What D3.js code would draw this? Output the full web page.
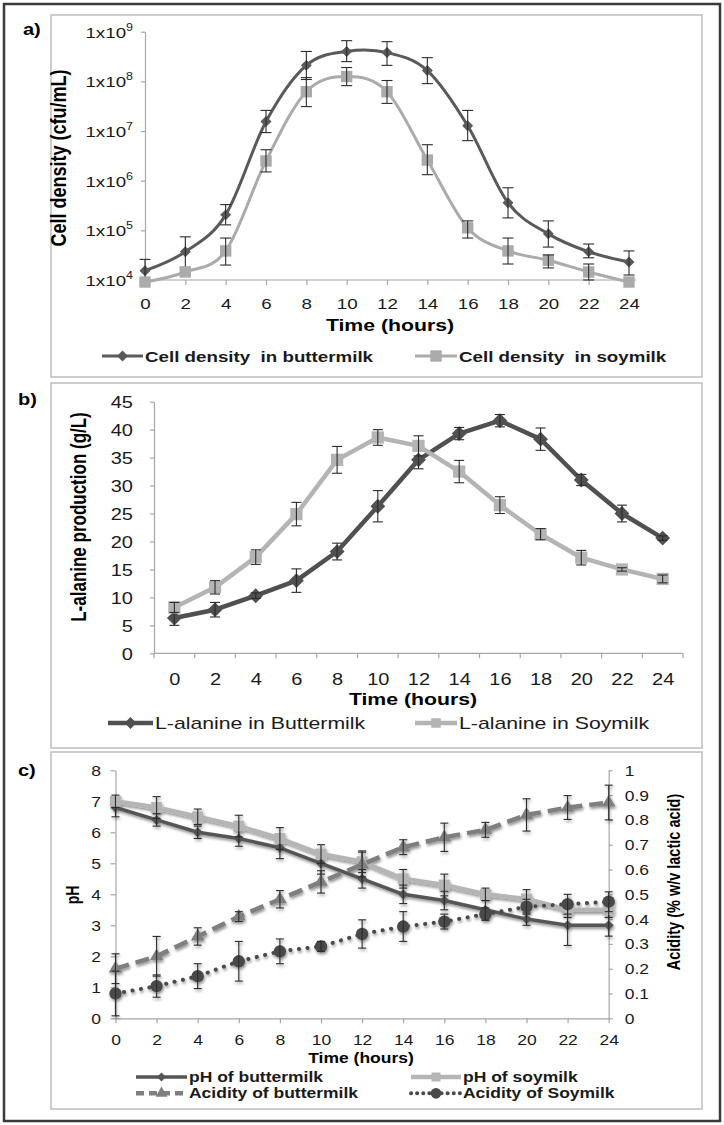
<!DOCTYPE html>
<html><head><meta charset="utf-8">
<script src="https://cdn.jsdelivr.net/npm/d3@7"></script>
<style>body{margin:0;background:#fff;} svg{display:block;font-family:Arial,"Liberation Sans",sans-serif;} text{white-space:pre;}</style>
</head><body><svg id="chart" width="724" height="1125"></svg>
<script>
// ---------- DATA ----------
const hours = [0,2,4,6,8,10,12,14,16,18,20,22,24];
const hourLabels = hours.map(String);

// Panel a: cell density (cfu/mL)
const cellButter   = [1.54e4, 3.7e4, 2.05e5, 1.55e7, 2.1e8, 4.0e8, 3.8e8, 1.65e8, 1.28e7, 3.6e5, 8.5e4, 3.7e4, 2.3e4];
const cellButterHi = [2.6e4, 7.4e4, 3.3e5, 2.6e7, 4.0e8, 6.6e8, 6.3e8, 3.0e8, 2.6e7, 7.2e5, 1.55e5, 5.3e4, 3.85e4];
const cellButterLo = [9.0e3, 1.8e4, 1.29e5, 9.3e6, 1.09e8, 2.5e8, 2.1e8, 9.0e7, 6.4e6, 1.78e5, 4.6e4, 2.8e4, 1.26e4];
const cellSoy      = [9.1e3, 1.45e4, 3.85e4, 2.5e6, 6.2e7, 1.25e8, 6.2e7, 2.6e6, 1.12e5, 3.85e4, 2.5e4, 1.45e4, 9.1e3];
const cellSoyHi    = [null, null, 7.0e4, 4.2e6, 1.19e8, 1.9e8, 1.04e8, 5.3e6, 1.55e5, 7.0e4, 3.2e4, 2.1e4, null];
const cellSoyLo    = [null, null, 2.0e4, 1.5e6, 3.1e7, 8.2e7, 3.6e7, 1.32e6, 7.0e4, 2.1e4, 1.75e4, 1.0e4, null];
const cellTicks    = [1e4, 1e5, 1e6, 1e7, 1e8, 1e9];

// Panel b: L-alanine (g/L)
const alaButter    = [6.3, 7.8, 10.3, 13.0, 18.2, 26.3, 34.6, 39.3, 41.6, 38.3, 31.0, 25.0, 20.6];
const alaButterErr = [1.3, 1.3, 0.5, 2.1, 1.5, 2.8, 1.6, 1.1, 1.1, 2.0, 1.0, 1.5, 0.4];
const alaSoy       = [8.2, 11.8, 17.2, 24.9, 34.6, 38.6, 37.1, 32.5, 26.5, 21.3, 17.1, 15.0, 13.3];
const alaSoyErr    = [0.9, 1.2, 1.3, 2.1, 2.4, 1.4, 1.8, 2.0, 1.5, 1.0, 1.3, 0.3, 0.7];
const alaTicks     = [0,5,10,15,20,25,30,35,40,45];

// Panel c: pH and acidity
const phButter      = [6.8, 6.4, 6.0, 5.8, 5.5, 5.0, 4.5, 4.0, 3.8, 3.5, 3.2, 3.0, 3.0];
const phButterErr   = [0.3, 0.2, 0.2, 0.25, 0.35, 0.35, 0.3, 0.3, 0.3, 0.3, 0.2, 0.65, 0.35];
const phSoy         = [7.0, 6.8, 6.5, 6.2, 5.8, 5.3, 5.05, 4.5, 4.3, 4.0, 3.85, 3.5, 3.5];
const phSoyErr      = [0.2, 0.35, 0.25, 0.35, 0.35, 0.3, 0.35, 0.3, 0.35, 0.2, 0.3, 0.25, 0.25];
const acidButter    = [0.20, 0.25, 0.33, 0.41, 0.48, 0.55, 0.62, 0.69, 0.73, 0.76, 0.82, 0.85, 0.87];
const acidButterErr = [0.06, 0.08, 0.035, 0.02, 0.035, 0.045, 0.05, 0.03, 0.057, 0.03, 0.065, 0.048, 0.07];
const acidSoy       = [0.10, 0.13, 0.17, 0.23, 0.27, 0.29, 0.34, 0.37, 0.39, 0.42, 0.45, 0.46, 0.47];
const acidSoyErr    = [0.09, 0.045, 0.05, 0.08, 0.05, 0.02, 0.057, 0.06, 0.03, 0.025, 0.03, 0.04, 0.04];
const phTicks       = [0,1,2,3,4,5,6,7,8];
const acidTicks     = [0,0.1,0.2,0.3,0.4,0.5,0.6,0.7,0.8,0.9,1];

// ---------- HELPERS ----------
const svg = d3.select('#chart');
const SX = 1.25;           // horizontal stretch of the source figure's text
const AX = '#a6a6a6';
const INK = '#1a1a1a';

const defs = svg.append('defs');
const f = defs.append('filter').attr('id','soft').attr('x','-20%').attr('y','-20%').attr('width','140%').attr('height','140%');
f.append('feGaussianBlur').attr('in','SourceAlpha').attr('stdDeviation',1.6).attr('result','b');
f.append('feOffset').attr('in','b').attr('dx',1).attr('dy',1.5).attr('result','o');
f.append('feComponentTransfer').attr('in','o').attr('result','s').append('feFuncA').attr('type','linear').attr('slope',0.45);
const fm = f.append('feMerge'); fm.append('feMergeNode').attr('in','s'); fm.append('feMergeNode').attr('in','SourceGraphic');

function txt(g, x, y, s, o = {}) {
  const tr = o.rot ? `translate(${x},${y}) rotate(${o.rot}) scale(1,${SX})`
                   : `translate(${x},${y}) scale(${SX},1)`;
  return g.append('text').attr('transform', tr)
    .attr('text-anchor', o.anchor || 'start')
    .attr('font-size', o.size || 15)
    .attr('font-weight', o.bold ? 'bold' : 'normal')
    .attr('fill', o.fill || INK)
    .attr('xml:space','preserve')
    .text(s);
}
const rhombus = { draw(ctx, size) { const w = Math.sqrt(size / 2); ctx.moveTo(0,-w); ctx.lineTo(w,0); ctx.lineTo(0,w); ctx.lineTo(-w,0); ctx.closePath(); } };

function styleAxis(sel) {
  sel.select('.domain').attr('stroke', AX).attr('stroke-width', 1.2);
  sel.selectAll('.tick line').attr('stroke', AX).attr('stroke-width', 1.2);
}
function drawSeries(g, xs, ys, vals, o) {
  const pts = hours.map((t, i) => ({ t, v: vals[i], i }));
  const line = d3.line().x(d => xs(d.t)).y(d => ys(d.v)).curve(o.curve || d3.curveLinear);
  g.append('path').attr('d', line(pts)).attr('fill','none')
    .attr('stroke', o.color).attr('stroke-width', o.width)
    .attr('stroke-dasharray', o.dash || null).attr('stroke-linecap', o.cap || 'butt')
    .attr('stroke-linejoin','round');
  g.selectAll(null).data(pts).join('path')
    .attr('transform', d => `translate(${xs(d.t)},${ys(d.v)})`)
    .attr('d', d3.symbol().type(o.symbol).size(o.size))
    .attr('fill', o.mcolor || o.color);
  // error bars
  const eb = pts.filter(d => o.hi ? o.hi[d.i] != null : o.err && o.err[d.i] != null);
  const hiV = d => o.hi ? o.hi[d.i] : d.v + o.err[d.i];
  const loV = d => o.lo ? o.lo[d.i] : d.v - o.err[d.i];
  const cw = o.capW || 4;
  const ge = g.append('g').attr('stroke', '#2b2b2b').attr('stroke-width', 1.1);
  ge.selectAll(null).data(eb).join('line')
    .attr('x1', d => xs(d.t)).attr('x2', d => xs(d.t))
    .attr('y1', d => ys(hiV(d))).attr('y2', d => ys(loV(d)));
  ge.selectAll(null).data(eb).join('line')
    .attr('x1', d => xs(d.t) - cw).attr('x2', d => xs(d.t) + cw)
    .attr('y1', d => ys(hiV(d))).attr('y2', d => ys(hiV(d)));
  ge.selectAll(null).data(eb).join('line')
    .attr('x1', d => xs(d.t) - cw).attr('x2', d => xs(d.t) + cw)
    .attr('y1', d => ys(loV(d))).attr('y2', d => ys(loV(d)));
}
function legendItem(g, x1, x2, y, label, o) {
  g.append('line').attr('x1', x1).attr('x2', x2).attr('y1', y).attr('y2', y)
    .attr('stroke', o.color).attr('stroke-width', o.width)
    .attr('stroke-dasharray', o.dash || null).attr('stroke-linecap', o.cap || 'butt');
  g.append('path').attr('transform', `translate(${(x1 + x2) / 2},${y})`)
    .attr('d', d3.symbol().type(o.symbol).size(o.size)).attr('fill', o.mcolor || o.color);
  txt(g, x2 + 2, y + o.dy, label, { size: o.fs, bold: o.bold });
}

// ---------- FRAMES ----------
svg.append('rect').attr('x',4).attr('y',4).attr('width',716).attr('height',1117)
  .attr('fill','none').attr('stroke','#3a3a3a').attr('stroke-width',2.5);
[[15,377],[383,748],[752,1109]].forEach(([y0,y1]) =>
  svg.append('rect').attr('x',51).attr('y',y0).attr('width',651).attr('height',y1-y0)
    .attr('fill','none').attr('stroke','#bdbdbd').attr('stroke-width',1.5));

// ---------- PANEL A ----------
{
  const g = svg.append('g');
  const x = d3.scalePoint().domain(hours).range([145, 629]);
  const y = d3.scaleLog().domain([1e4, 1e9]).range([280, 31.7]);
  const ya = g.append('g').attr('transform','translate(145,0)')
    .call(d3.axisLeft(y).tickValues(cellTicks).tickSize(4).tickSizeOuter(0).tickFormat(''));
  styleAxis(ya);
  ya.selectAll('.tick text').remove();
  ya.selectAll('.tick').each(function(d) {
    const t = d3.select(this).append('text').attr('text-anchor','end')
      .attr('x', -12 / SX).attr('y', 5.5).attr('transform', `scale(${SX},1)`)
      .attr('font-size', 15).attr('fill', INK);
    t.append('tspan').text('1x10');
    t.append('tspan').attr('font-size', 10).attr('dy', -7).text(Math.round(Math.log10(d)));
  });
  const xa = g.append('g').attr('transform','translate(0,280)')
    .call(d3.axisBottom(x).tickSize(5).tickSizeOuter(0).tickFormat((d,i) => hourLabels[i]));
  styleAxis(xa);
  xa.select('.domain').remove();
  xa.append('line').attr('x1',145).attr('x2',636).attr('stroke',AX).attr('stroke-width',1.2);
  xa.selectAll('.tick text').attr('y', 29).attr('dy', 0).attr('font-size', 15).attr('fill', INK)
    .attr('transform', `scale(${SX},1)`).attr('x', 0);

  txt(g, 23, 35, 'a)', { size: 16, bold: true, fill: '#000' });
  txt(g, 66, 158, 'Cell density (cfu/mL)', { size: 18, bold: true, rot: -90, anchor: 'middle', fill: '#000' });
  txt(g, 390, 331, 'Time (hours)', { size: 17, bold: true, anchor: 'middle', fill: '#000' });

  const sb = { color: '#5a5a5a', width: 3, symbol: rhombus, size: 60, capW: 5.5, curve: d3.curveCardinal.tension(0) };
  const ss = { color: '#ababab', width: 3, symbol: d3.symbolSquare, size: 130, capW: 5.5, curve: d3.curveCardinal.tension(0) };
  drawSeries(g, x, y, cellButter, Object.assign({ hi: cellButterHi, lo: cellButterLo }, sb));
  drawSeries(g, x, y, cellSoy, Object.assign({ hi: cellSoyHi, lo: cellSoyLo }, ss));

  legendItem(g, 102, 143, 356, 'Cell density  in buttermilk', Object.assign({}, sb, { fs: 15, bold: true, dy: 5.5 }));
  legendItem(g, 415, 457, 356, 'Cell density  in soymilk', Object.assign({}, ss, { fs: 15, bold: true, dy: 5.5 }));
}

// ---------- PANEL B ----------
{
  const g = svg.append('g');
  const x = d3.scalePoint().domain(hours).range([154, 683]).padding(0.5);
  const y = d3.scaleLinear().domain([0, 45]).range([653.3, 401.7]);
  const ya = g.append('g').attr('transform','translate(154,0)')
    .call(d3.axisLeft(y).tickValues(alaTicks).tickSize(4).tickSizeOuter(0));
  styleAxis(ya);
  ya.selectAll('.tick text').attr('font-size', 16).attr('fill', INK).attr('dy', 0).attr('y', 6)
    .attr('x', -21 / SX).attr('transform', `scale(${SX},1)`);
  const xa = g.append('g').attr('transform','translate(0,653.3)')
    .call(d3.axisBottom(x).tickSize(0).tickFormat((d,i) => hourLabels[i]));
  xa.select('.domain').remove();
  xa.append('line').attr('x1',154).attr('x2',683).attr('stroke',AX).attr('stroke-width',1.2);
  xa.selectAll(null).data(d3.range(hours.length + 1)).join('line')
    .attr('x1', i => x.range()[0] + i * x.step()).attr('x2', i => x.range()[0] + i * x.step())
    .attr('y1', 0).attr('y2', 5).attr('stroke', AX).attr('stroke-width', 1.2);
  xa.selectAll('.tick text').attr('y', 31.7).attr('dy', 0).attr('font-size', 16).attr('fill', INK)
    .attr('transform', `scale(${SX},1)`).attr('x', 0);

  txt(g, 18, 405, 'b)', { size: 16, bold: true, fill: '#000' });
  txt(g, 86, 517, 'L-alanine production (g/L)', { size: 17, bold: true, rot: -90, anchor: 'middle', fill: '#000' });
  txt(g, 413, 705, 'Time (hours)', { size: 17, bold: true, anchor: 'middle', fill: '#000' });

  const sb = { color: '#505050', width: 4.5, symbol: rhombus, size: 110, capW: 5 };
  const ss = { color: '#b4b4b4', width: 4.5, symbol: d3.symbolSquare, size: 150, capW: 5 };
  drawSeries(g, x, y, alaButter, Object.assign({ err: alaButterErr }, sb));
  drawSeries(g, x, y, alaSoy, Object.assign({ err: alaSoyErr }, ss));

  legendItem(g, 108, 153, 723, 'L-alanine in Buttermilk', Object.assign({}, sb, { size: 70, fs: 17, dy: 6 }));
  legendItem(g, 415, 457, 723, 'L-alanine in Soymilk', Object.assign({}, ss, { size: 90, fs: 17, dy: 6 }));
}

// ---------- PANEL C ----------
{
  const g = svg.append('g');
  const x = d3.scalePoint().domain(hours).range([115.5, 608.7]);
  const y = d3.scaleLinear().domain([0, 8]).range([1018.3, 770.3]);
  const y2 = d3.scaleLinear().domain([0, 1]).range([1018.3, 770.3]);
  const ya = g.append('g').attr('transform','translate(115.5,0)')
    .call(d3.axisLeft(y).tickValues(phTicks).tickSize(5).tickSizeOuter(0));
  styleAxis(ya);
  ya.selectAll('.tick text').attr('font-size', 14).attr('fill', INK).attr('dy', 0).attr('y', 5)
    .attr('x', -14.5 / SX).attr('transform', `scale(${SX},1)`);
  const yb = g.append('g').attr('transform','translate(608.7,0)')
    .call(d3.axisRight(y2).tickValues(acidTicks).tickSize(4).tickSizeOuter(0).tickFormat(d3.format('~g')));
  styleAxis(yb);
  yb.selectAll('.tick text').attr('font-size', 14).attr('fill', INK).attr('dy', 0).attr('y', 5)
    .attr('x', 16 / SX).attr('transform', `scale(${SX},1)`);
  const xa = g.append('g').attr('transform','translate(0,1018.3)')
    .call(d3.axisBottom(x).tickSize(5).tickSizeOuter(0).tickFormat((d,i) => hourLabels[i]));
  styleAxis(xa);
  xa.selectAll('.tick text').attr('y', 26.7).attr('dy', 0).attr('font-size', 14).attr('fill', INK)
    .attr('transform', `scale(${SX},1)`).attr('x', 0);

  txt(g, 18, 776, 'c)', { size: 16, bold: true, fill: '#000' });
  txt(g, 79, 895, 'pH', { size: 14, bold: true, rot: -90, anchor: 'middle', fill: '#000' });
  txt(g, 680, 882, 'Acidity (% w/v lactic acid)', { size: 14.5, bold: true, rot: -90, anchor: 'middle', fill: '#000' });
  txt(g, 361, 1063, 'Time (hours)', { size: 14, bold: true, anchor: 'middle', fill: '#000' });

  const pb = { color: '#555555', width: 3.5, symbol: rhombus, size: 50, capW: 4 };
  const ps = { color: '#b5b5b5', width: 4.5, symbol: d3.symbolSquare, size: 120, capW: 4 };
  const ab = { color: '#7f7f7f', width: 4.5, symbol: d3.symbolTriangle, size: 80, capW: 4, dash: '14,7' };
  const as = { color: '#4a4a4a', width: 4, symbol: d3.symbolCircle, size: 120, capW: 4, dash: '0.1,8.5', cap: 'round' };
  const sg = g.append('g').attr('filter','url(#soft)');
  drawSeries(sg, x, y, phButter, Object.assign({ err: phButterErr }, pb));
  drawSeries(sg, x, y, phSoy, Object.assign({ err: phSoyErr }, ps));
  drawSeries(sg, x, y2, acidButter, Object.assign({ err: acidButterErr }, ab));
  drawSeries(sg, x, y2, acidSoy, Object.assign({ err: acidSoyErr }, as));

  legendItem(g, 136, 187, 1077, 'pH of buttermilk', Object.assign({}, pb, { size: 40, fs: 14, bold: true, dy: 5 }));
  legendItem(g, 411, 461, 1077, 'pH of soymilk', Object.assign({}, ps, { size: 80, fs: 14, bold: true, dy: 5 }));
  legendItem(g, 136, 187, 1093.3, 'Acidity of buttermilk', Object.assign({}, ab, { size: 60, fs: 14, bold: true, dy: 5, dash: '8,5' }));
  legendItem(g, 411, 461, 1093.3, 'Acidity of Soymilk', Object.assign({}, as, { size: 90, fs: 14, bold: true, dy: 5, dash: '0.1,6' }));
}
</script>
</body></html>
